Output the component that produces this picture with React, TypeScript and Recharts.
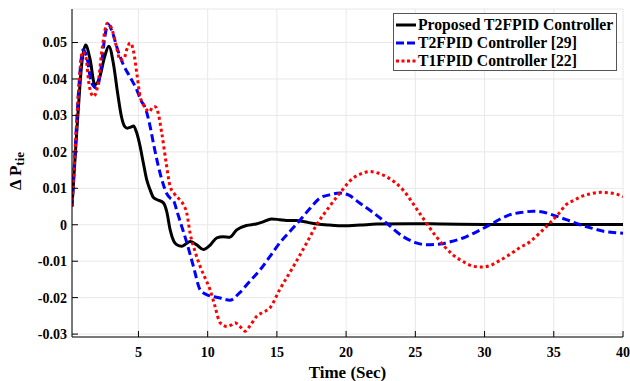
import { LineChart, Line, XAxis, YAxis, CartesianGrid, Legend } from 'recharts'

// Time (s) and Delta P_tie values
const proposedTime = [
  0.2, 0.45, 0.65, 0.9, 1.18, 1.5, 1.85, 2.2, 2.55, 2.86, 3.2, 3.5, 3.77, 4.0, 4.2, 4.45, 4.65, 4.85, 5.12,
  5.35, 5.6, 5.85, 6.08, 6.4, 6.8, 7.05, 7.29, 7.55, 7.77, 8.13, 8.45, 8.73, 9.2, 9.69, 10.2, 10.66, 11.1,
  11.6, 12.1, 12.8, 13.5, 14.0, 14.6, 15.2, 15.7, 16.4, 17.0, 17.9, 18.8, 19.8, 21.0, 22.2, 24.6, 27, 30,
  33, 36, 40,
]
const proposedValues = [
  0.005, 0.02, 0.0315, 0.044, 0.0493, 0.0455, 0.0384, 0.0405, 0.046, 0.049, 0.044, 0.036, 0.0297, 0.027,
  0.0265, 0.0268, 0.0271, 0.0255, 0.0215, 0.017, 0.0123, 0.0095, 0.0075, 0.0068, 0.006, 0.0035, -0.0014,
  -0.0045, -0.0055, -0.0059, -0.0052, -0.0046, -0.0055, -0.0068, -0.0055, -0.0036, -0.0033, -0.0034,
  -0.0014, -0.0002, 0.0002, 0.0008, 0.0016, 0.0014, 0.0012, 0.0012, 0.0008, 0.0002, -0.0001, -0.0003,
  -0.0001, 0.0002, 0.0003, 0.0002, 0.0001, 0.0001, 0.0001, 0.0001,
]

const t2Time = [
  0.2, 0.45, 0.7, 1.0, 1.3, 1.6, 2.0, 2.3, 2.55, 2.81, 3.1, 3.5, 3.92, 4.4, 4.88, 5.2, 5.5, 5.84, 6.1, 6.44,
  6.8, 7.05, 7.3, 7.55, 7.8, 8.13, 8.5, 8.97, 9.45, 9.93, 10.4, 10.9, 11.6, 12.3, 13.0, 13.8, 14.5, 15.2,
  16.0, 16.7, 17.4, 18.1, 18.8, 19.55, 20.2, 21.0, 22.0, 22.9, 24.1, 25.0, 25.8, 26.8, 27.6, 28.4, 29.7,
  30.4, 31.1, 31.8, 32.7, 33.5, 34.2, 34.9, 35.9, 36.9, 37.8, 38.6, 39.3, 40,
]
const t2Values = [
  0.005, 0.022, 0.038, 0.048, 0.0455, 0.039, 0.0375, 0.043, 0.051, 0.055, 0.053, 0.048, 0.0438, 0.0405,
  0.037, 0.034, 0.032, 0.027, 0.022, 0.016, 0.011, 0.0085, 0.0073, 0.0065, 0.0035, -0.0005, -0.005, -0.0114,
  -0.0178, -0.0192, -0.0197, -0.0201, -0.0207, -0.0187, -0.0157, -0.0123, -0.0087, -0.005, -0.0016, 0.0014,
  0.0045, 0.0073, 0.0082, 0.0087, 0.0081, 0.0059, 0.0032, 0.0005, -0.0032, -0.0049, -0.0055, -0.0053,
  -0.0046, -0.0037, -0.0014, 0, 0.0015, 0.0027, 0.0034, 0.0037, 0.0035, 0.0027, 0.0014, 0, -0.001, -0.0018,
  -0.0021, -0.0023,
]

const t1Time = [
  0.2, 0.45, 0.7, 0.95, 1.2, 1.45, 1.75, 2.05, 2.4, 2.75, 3.05, 3.4, 3.68, 3.95, 4.15, 4.4, 4.65, 4.9, 5.12,
  5.35, 5.6, 5.8, 6.0, 6.2, 6.4, 6.69, 7.0, 7.29, 7.6, 8.0, 8.25, 8.49, 8.73, 9.1, 9.45, 9.8, 10.17, 10.5,
  10.9, 11.4, 11.7, 11.98, 12.3, 12.7, 13.1, 13.54, 14.0, 14.5, 15.2, 16.2, 17.15, 17.87, 18.7, 19.55, 20.5,
  21.1, 21.7, 22.3, 22.9, 24.1, 25.3, 26.5, 27.7, 28.5, 29.2, 29.8, 30.4, 31.1, 31.8, 32.5, 33.3, 34.0, 34.6,
  35.3, 35.9, 36.5, 37.1, 37.8, 38.4, 39.1, 39.9, 40,
]
const t1Values = [
  0.005, 0.022, 0.038, 0.0475, 0.046, 0.038, 0.0352, 0.038, 0.049, 0.0553, 0.054, 0.049, 0.0452, 0.0455,
  0.048, 0.0499, 0.0475, 0.041, 0.0352, 0.033, 0.0315, 0.031, 0.0322, 0.0324, 0.031, 0.025, 0.017, 0.0105,
  0.0085, 0.0068, 0.0055, 0.0032, -0.0023, -0.0075, -0.0114, -0.0145, -0.0178, -0.022, -0.0269, -0.0279,
  -0.0275, -0.0269, -0.0278, -0.0292, -0.0275, -0.0251, -0.024, -0.0228, -0.0178, -0.0114, -0.005, 0,
  0.0045, 0.0087, 0.0128, 0.014, 0.0146, 0.0142, 0.0132, 0.0096, 0.0032, -0.0032, -0.0082, -0.0102,
  -0.0114, -0.0116, -0.0112, -0.0098, -0.0082, -0.0064, -0.0046, -0.0022, 0, 0.0028, 0.0055, 0.0068,
  0.0079, 0.0086, 0.0089, 0.0087, 0.0079, 0.0077,
]

const xTicks = [5, 10, 15, 20, 25, 30, 35, 40]
const yTicks = [-0.03, -0.02, -0.01, 0, 0.01, 0.02, 0.03, 0.04, 0.05]

const FONT = "'Liberation Serif', 'Times New Roman', Times, serif"

const toPoints = (t: number[], v: number[]) => t.map((x, i) => ({ t: x, v: v[i] }))

const SERIES = [
  { name: 'Proposed T2FPID Controller', color: '#000000', dash: undefined, legendDash: undefined, data: toPoints(proposedTime, proposedValues) },
  { name: 'T2FPID Controller [29]', color: '#0000ff', dash: '8 4', legendDash: '8 3', data: toPoints(t2Time, t2Values) },
  { name: 'T1FPID Controller [22]', color: '#ff0000', dash: '3 3', legendDash: '3 2.5', data: toPoints(t1Time, t1Values) },
]

const fmtY = (v: number) => (v === 0 ? '0' : v.toFixed(2))

const LegendBox = () => (
  <div
    style={{
      width: 224,
      height: 58,
      boxSizing: 'border-box',
      border: '1.5px solid #555',
      background: '#fff',
      paddingTop: 2,
      paddingLeft: 2,
    }}
  >
    {SERIES.map((s) => (
      <div key={s.name} style={{ display: 'flex', alignItems: 'center', height: 18 }}>
        <svg width={20} height={6} style={{ flex: 'none' }}>
          <line x1={0} y1={3} x2={20} y2={3} stroke={s.color} strokeWidth={3} strokeDasharray={s.legendDash} />
        </svg>
        <span
          style={{ fontFamily: FONT, fontWeight: 700, fontSize: 15.7, marginLeft: 2, whiteSpace: 'nowrap', lineHeight: '18px' }}
        >
          {s.name}
        </span>
      </div>
    ))}
  </div>
)

const YLabel = () => (
  <text
    transform="translate(21, 171) rotate(-90)"
    textAnchor="middle"
    fontFamily={FONT}
    fontWeight={700}
    fontSize={17}
    fill="#000"
  >
    Δ P<tspan fontSize={13} dy={3}>tie</tspan>
  </text>
)

// eslint-disable-next-line @typescript-eslint/no-explicit-any
const XLabel = ({ viewBox }: any) => (
  <text
    x={viewBox.x + viewBox.width / 2}
    y={viewBox.y + 41}
    textAnchor="middle"
    fontFamily={FONT}
    fontWeight={700}
    fontSize={17}
    fill="#000"
  >
    Time (Sec)
  </text>
)

const tickStyle = { fontFamily: FONT, fontWeight: 700, fontSize: 14, fill: '#000' }
const axisLine = { stroke: '#000', strokeWidth: 1 }

export default function App() {
  return (
    <div style={{ position: 'absolute', left: 0, top: 0, width: 630, height: 381, background: '#fff' }}>
      <LineChart width={630} height={381} margin={{ top: 9, right: 7, left: 0, bottom: 0 }}>
        <CartesianGrid stroke="#e8e8e8" strokeWidth={1} />
        <XAxis
          dataKey="t"
          type="number"
          domain={[0.2, 40]}
          ticks={xTicks}
          allowDataOverflow
          height={44}
          tickSize={-6}
          tickMargin={16}
          tick={tickStyle}
          axisLine={axisLine}
          tickLine={axisLine}
          label={<XLabel />}
        />
        <XAxis
          xAxisId="top"
          orientation="top"
          dataKey="t"
          type="number"
          domain={[0.2, 40]}
          ticks={xTicks}
          allowDataOverflow
          height={0}
          tickSize={-6}
          tickFormatter={() => ''}
          axisLine={axisLine}
          tickLine={axisLine}
        />
        <YAxis
          type="number"
          domain={[-0.0308, 0.0592]}
          ticks={yTicks}
          allowDataOverflow
          width={72}
          tickSize={-6}
          tickMargin={11}
          tick={tickStyle}
          tickFormatter={fmtY}
          axisLine={axisLine}
          tickLine={axisLine}
          label={<YLabel />}
        />
        <YAxis
          yAxisId="right"
          orientation="right"
          type="number"
          domain={[-0.0308, 0.0592]}
          ticks={yTicks}
          allowDataOverflow
          width={0}
          tickSize={-6}
          tickFormatter={() => ''}
          axisLine={axisLine}
          tickLine={axisLine}
        />
        {SERIES.map((s) => (
          <Line
            key={s.name}
            data={s.data}
            dataKey="v"
            name={s.name}
            type="monotone"
            stroke={s.color}
            strokeWidth={3}
            strokeDasharray={s.dash}
            dot={false}
            activeDot={false}
            isAnimationActive={false}
          />
        ))}
        <Legend
          layout="horizontal"
          verticalAlign="middle"
          align="center"
          content={<LegendBox />}
          wrapperStyle={{ top: 13, left: 393, width: 224, height: 58 }}
        />
      </LineChart>
    </div>
  )
}
